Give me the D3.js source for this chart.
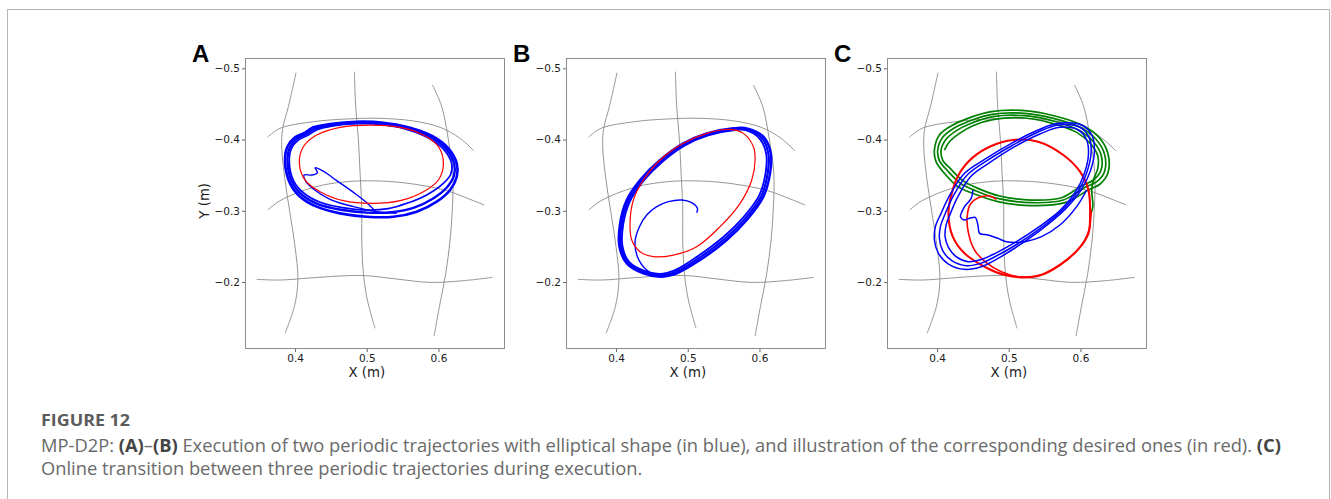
<!DOCTYPE html>
<html>
<head>
<meta charset="utf-8">
<script src="https://cdn.jsdelivr.net/npm/d3@7"></script>
<style>
  body { margin: 0; background: #fff; }
  svg { display: block; }
</style>
</head>
<body>
<svg id="fig" width="1331" height="499"></svg>
<script>
(() => {
  // axis ticks
  const xTicks = [0.4, 0.5, 0.6];
  const yTicks = [-0.5, -0.4, -0.3, -0.2];
  const panelLetters = ['A', 'B', 'C'];

  // workspace grid curves (grey), same in every panel
  const gridV1 = [[0.4014,-0.4939],[0.3907,-0.4462],[0.3828,-0.4158],[0.3814,-0.39],[0.386,-0.343],[0.393,-0.2964],[0.4,-0.2496],[0.4040,-0.2028],[0.399,-0.1654],[0.386,-0.128]];
  const gridV2 = [[0.4828,-0.4953],[0.4846,-0.4462],[0.4884,-0.3994],[0.4907,-0.3526],[0.493,-0.3058],[0.493,-0.259],[0.4953,-0.2122],[0.5009,-0.1747],[0.5116,-0.135]];
  const gridV3 = [[0.5916,-0.4766],[0.6046,-0.4462],[0.6139,-0.3994],[0.62,-0.3526],[0.6195,-0.3058],[0.6162,-0.259],[0.6102,-0.2122],[0.6013,-0.1654],[0.5939,-0.1242]];
  const gridH1 = [[0.3614,-0.4031],[0.3791,-0.4158],[0.4256,-0.4251],[0.4721,-0.4289],[0.5186,-0.4298],[0.5651,-0.4261],[0.6023,-0.4172],[0.6302,-0.4017],[0.6497,-0.3839]];
  const gridH2 = [[0.3619,-0.3011],[0.3791,-0.3142],[0.4256,-0.3329],[0.4721,-0.3409],[0.5186,-0.3418],[0.5651,-0.3376],[0.6116,-0.3282],[0.6441,-0.3161],[0.6637,-0.3081]];
  const gridH3 = [[0.3465,-0.2038],[0.3791,-0.2028],[0.4256,-0.2061],[0.4721,-0.2089],[0.5,-0.2089],[0.5418,-0.2042],[0.5883,-0.1995],[0.6348,-0.2019],[0.6757,-0.2066]];

  // panel A
  const desiredA = [[0.406,-0.3666],[0.4116,-0.39],[0.4302,-0.4064],[0.4628,-0.4172],[0.5046,-0.4204],[0.5465,-0.4172],[0.579,-0.4064],[0.6,-0.39],[0.6069,-0.3666],[0.6,-0.3432],[0.579,-0.3268],[0.5465,-0.3142],[0.5093,-0.3105],[0.4674,-0.3142],[0.4349,-0.3268],[0.414,-0.3432]];
  const execA1 = [[0.386,-0.369],[0.3893,-0.39],[0.4,-0.4031],[0.414,-0.4097],[0.4256,-0.4172],[0.4488,-0.4218],[0.486,-0.4251],[0.5232,-0.4237],[0.5604,-0.4167],[0.593,-0.4041],[0.6139,-0.3877],[0.6255,-0.3666],[0.6255,-0.3479],[0.6162,-0.3292],[0.5976,-0.3128],[0.5697,-0.2988],[0.5372,-0.2917],[0.5,-0.2917],[0.4628,-0.2964],[0.4302,-0.3058],[0.407,-0.3198],[0.393,-0.3385]];
  const execA2 = [[0.3895,-0.369],[0.3925,-0.3885],[0.4025,-0.4012],[0.416,-0.4078],[0.428,-0.4152],[0.45,-0.4202],[0.486,-0.4236],[0.523,-0.4222],[0.559,-0.4152],[0.591,-0.4026],[0.611,-0.3865],[0.622,-0.366],[0.6215,-0.349],[0.611,-0.332],[0.592,-0.317],[0.566,-0.3045],[0.535,-0.298],[0.5,-0.2975],[0.464,-0.3015],[0.432,-0.3095],[0.4095,-0.3225],[0.396,-0.34]];
  const execA3 = [[0.392,-0.368],[0.395,-0.3875],[0.405,-0.3995],[0.418,-0.406],[0.43,-0.4135],[0.451,-0.4188],[0.487,-0.4222],[0.522,-0.421],[0.557,-0.414],[0.588,-0.4012],[0.608,-0.3855],[0.6185,-0.366],[0.617,-0.351],[0.604,-0.336],[0.583,-0.322],[0.556,-0.3105],[0.53,-0.303],[0.5,-0.301],[0.466,-0.3045],[0.435,-0.312],[0.412,-0.325],[0.398,-0.342]];
  const startA = [[0.5149,-0.2964],[0.5,-0.3114],[0.4814,-0.3259],[0.4581,-0.3423],[0.4405,-0.3549],[0.4279,-0.3605],[0.4312,-0.3535],[0.4233,-0.3502],[0.4126,-0.3502],[0.4153,-0.3409],[0.4256,-0.3306],[0.4488,-0.3161],[0.4814,-0.3058],[0.5139,-0.2988],[0.5418,-0.2964]];

  // panel B
  const desiredB = [[0.559,-0.4144],[0.5776,-0.4087],[0.5916,-0.39],[0.5939,-0.3713],[0.5893,-0.3432],[0.573,-0.3105],[0.5451,-0.2777],[0.5125,-0.2496],[0.48,-0.2379],[0.4521,-0.2356],[0.4335,-0.2426],[0.4219,-0.259],[0.4195,-0.2824],[0.4242,-0.3151],[0.4381,-0.3432],[0.4614,-0.3713],[0.4939,-0.3947],[0.5265,-0.4087]];
  const execB1 = [[0.5637,-0.4158],[0.5823,-0.4158],[0.6055,-0.4041],[0.6158,-0.3807],[0.6148,-0.3526],[0.6055,-0.3198],[0.5823,-0.2871],[0.5544,-0.259],[0.5172,-0.2309],[0.4846,-0.2122],[0.4614,-0.2075],[0.4381,-0.2122],[0.4149,-0.2262],[0.4047,-0.2496],[0.4056,-0.2824],[0.4149,-0.3151],[0.4335,-0.3432],[0.4614,-0.3713],[0.4939,-0.3947],[0.5265,-0.4087]];
  const execB2 = [[0.565,-0.4145],[0.5815,-0.4145],[0.603,-0.4025],[0.6125,-0.38],[0.6115,-0.3525],[0.6025,-0.3205],[0.58,-0.289],[0.5525,-0.2615],[0.5155,-0.2335],[0.4835,-0.2145],[0.461,-0.2095],[0.439,-0.2138],[0.4165,-0.2272],[0.4068,-0.2498],[0.4078,-0.2818],[0.4168,-0.3138],[0.4352,-0.3418],[0.4628,-0.3698],[0.495,-0.3932],[0.5275,-0.4072]];
  const execB3 = [[0.566,-0.4132],[0.5808,-0.4132],[0.6005,-0.401],[0.6095,-0.3795],[0.6085,-0.3525],[0.5995,-0.3212],[0.5778,-0.291],[0.5505,-0.2638],[0.5138,-0.236],[0.4825,-0.2168],[0.4608,-0.2115],[0.4398,-0.2155],[0.4182,-0.2282],[0.409,-0.25],[0.41,-0.2812],[0.419,-0.3125],[0.437,-0.3405],[0.4642,-0.3685],[0.496,-0.3918],[0.5285,-0.4058]];
  const startB = [[0.5125,-0.2974],[0.5135,-0.3034],[0.5056,-0.3114],[0.4916,-0.3151],[0.473,-0.3128],[0.4567,-0.3058],[0.4428,-0.2941],[0.4326,-0.2777],[0.4265,-0.2566],[0.4298,-0.2356],[0.4428,-0.2169],[0.4614,-0.2084],[0.4846,-0.2113]];

  // panel C: green, red and blue executions
  const greenC1 = [[0.3963,-0.3853],[0.4033,-0.4064],[0.4196,-0.419],[0.443,-0.4298],[0.4757,-0.4392],[0.5224,-0.4406],[0.5644,-0.4331],[0.6017,-0.4204],[0.6251,-0.4041],[0.6382,-0.3807],[0.6382,-0.3526],[0.6274,-0.3376],[0.6111,-0.3292],[0.5784,-0.3114],[0.5317,-0.3072],[0.485,-0.3128],[0.4523,-0.3236],[0.429,-0.3339],[0.4103,-0.3526],[0.3986,-0.369]];
  const greenC2 = [[0.4009,-0.3853],[0.4079,-0.4031],[0.4234,-0.4158],[0.4453,-0.4261],[0.4766,-0.4354],[0.5224,-0.4368],[0.5635,-0.4293],[0.5994,-0.4172],[0.6214,-0.4008],[0.6335,-0.3797],[0.6335,-0.3549],[0.6228,-0.3409],[0.6064,-0.3329],[0.5761,-0.3151],[0.5317,-0.3114],[0.4859,-0.317],[0.4546,-0.3278],[0.4327,-0.3385],[0.4149,-0.3559],[0.4033,-0.3704]];
  const greenC3 = [[0.4056,-0.3853],[0.4126,-0.4003],[0.4271,-0.4125],[0.4476,-0.4228],[0.478,-0.4321],[0.5224,-0.4335],[0.562,-0.4261],[0.5971,-0.4134],[0.6181,-0.397],[0.6288,-0.3783],[0.6288,-0.3573],[0.6181,-0.3432],[0.6027,-0.3357],[0.5737,-0.3184],[0.5317,-0.3151],[0.4873,-0.3208],[0.457,-0.3315],[0.436,-0.3423],[0.4196,-0.3582],[0.4079,-0.3713]];
  const greenC4 = [[0.4103,-0.3853],[0.4173,-0.397],[0.4313,-0.4087],[0.45,-0.4195],[0.4794,-0.4284],[0.5224,-0.4303],[0.5606,-0.4228],[0.5947,-0.4101],[0.6144,-0.3938],[0.6242,-0.3769],[0.6242,-0.3596],[0.6181,-0.3432],[0.6158,-0.3292],[0.6172,-0.3058],[0.6134,-0.2927]];
  const redC1 = [[0.6134,-0.2927],[0.6111,-0.2683],[0.598,-0.2473],[0.5714,-0.2239],[0.541,-0.2084],[0.5177,-0.2066],[0.4943,-0.2098],[0.4663,-0.2215],[0.4383,-0.2403],[0.4219,-0.2637],[0.4159,-0.2964],[0.4205,-0.3245],[0.4313,-0.3526],[0.45,-0.375],[0.4757,-0.391],[0.506,-0.3994],[0.541,-0.397],[0.5761,-0.3783],[0.5994,-0.3549],[0.6111,-0.3292]];
  const redC2 = [[0.6148,-0.3011],[0.612,-0.273],[0.5994,-0.2487],[0.5737,-0.2262],[0.5434,-0.2098],[0.513,-0.2075],[0.4897,-0.2145],[0.4686,-0.2272],[0.4523,-0.2449],[0.4439,-0.2683],[0.442,-0.2917],[0.4467,-0.3095],[0.4593,-0.3189],[0.4733,-0.3208],[0.4827,-0.3161]];
  const blueC1 = [[0.5691,-0.4228],[0.6017,-0.4204],[0.6158,-0.4064],[0.6195,-0.383],[0.6134,-0.3549],[0.6008,-0.3292],[0.5784,-0.302],[0.5457,-0.274],[0.513,-0.2506],[0.485,-0.2332],[0.4616,-0.2215],[0.4383,-0.2178],[0.4159,-0.2253],[0.4019,-0.2403],[0.3963,-0.259],[0.3977,-0.2777],[0.4056,-0.2964],[0.4187,-0.3236],[0.4383,-0.3526],[0.4663,-0.3722],[0.5037,-0.3947],[0.541,-0.4134]];
  const blueC2 = [[0.5691,-0.4204],[0.5994,-0.4172],[0.612,-0.4031],[0.6148,-0.3807],[0.6087,-0.3535],[0.5971,-0.3282],[0.5747,-0.3011],[0.5434,-0.2749],[0.5121,-0.2534],[0.4827,-0.2365],[0.4607,-0.2262],[0.4406,-0.2229],[0.4205,-0.23],[0.4079,-0.244],[0.4033,-0.2613],[0.4047,-0.2777],[0.4112,-0.2955],[0.4234,-0.3222],[0.442,-0.3502],[0.4696,-0.3704],[0.506,-0.3924],[0.541,-0.4106]];
  const blueC3 = [[0.5714,-0.4172],[0.5971,-0.4134],[0.6087,-0.3994],[0.6111,-0.3783],[0.6055,-0.3526],[0.5933,-0.3268],[0.5714,-0.3002],[0.541,-0.2768],[0.5107,-0.2566],[0.4813,-0.2403],[0.4593,-0.2309],[0.443,-0.2286],[0.4266,-0.2356],[0.4159,-0.2487],[0.4112,-0.2637],[0.4126,-0.28],[0.4187,-0.2964],[0.429,-0.3198],[0.4467,-0.3479],[0.4733,-0.3676],[0.5083,-0.39],[0.5434,-0.4078]];
  const blueCstart = [[0.45,-0.3292],[0.4476,-0.3175],[0.4383,-0.3058],[0.4327,-0.2917],[0.4374,-0.2871],[0.4453,-0.2894],[0.4532,-0.2908],[0.457,-0.28],[0.4593,-0.2683],[0.471,-0.266],[0.485,-0.2613],[0.4967,-0.2566],[0.5224,-0.2566],[0.5457,-0.2637],[0.5714,-0.28],[0.5947,-0.3058],[0.6087,-0.3292]];

  const BLUE = '#0000ff', RED = '#ff0000', GREEN = '#008000';

  const panels = [
    { left: 245, series: [
      { pts: startA, color: BLUE, w: 1.4, closed: false },
      { pts: execA1, color: BLUE, w: 2.6, closed: true },
      { pts: execA2, color: BLUE, w: 2.4, closed: true },
      { pts: execA3, color: BLUE, w: 1.7, closed: true },
      { pts: desiredA, color: RED, w: 1.2, closed: true }
    ]},
    { left: 566, series: [
      { pts: startB, color: BLUE, w: 1.4, closed: false },
      { pts: execB1, color: BLUE, w: 2.4, closed: true },
      { pts: execB2, color: BLUE, w: 2.2, closed: true },
      { pts: execB3, color: BLUE, w: 1.9, closed: true },
      { pts: desiredB, color: RED, w: 1.2, closed: true }
    ]},
    { left: 887, series: [
      { pts: greenC1, color: GREEN, w: 1.7, closed: true },
      { pts: greenC2, color: GREEN, w: 1.7, closed: true },
      { pts: greenC3, color: GREEN, w: 1.7, closed: true },
      { pts: greenC4, color: GREEN, w: 1.7, closed: false },
      { pts: redC1, color: RED, w: 2.1, closed: true },
      { pts: redC2, color: RED, w: 1.6, closed: false },
      { pts: blueCstart, color: BLUE, w: 1.5, closed: false },
      { pts: blueC1, color: BLUE, w: 1.5, closed: true },
      { pts: blueC2, color: BLUE, w: 1.5, closed: true },
      { pts: blueC3, color: BLUE, w: 1.5, closed: true }
    ]}
  ];
  const grids = [gridV1, gridV2, gridV3, gridH1, gridH2, gridH3];

  const svg = d3.select('#fig');
  const top = 58, width = 260, height = 291;
  const axisFont = '"DejaVu Sans", sans-serif';

  // outer box
  svg.append('rect')
    .attr('x', 7.5).attr('y', 9.5).attr('width', 1322).attr('height', 520)
    .attr('fill', 'none').attr('stroke', '#b5b5b5').attr('stroke-width', 1);

  panels.forEach((p, i) => {
    let x = d3.scaleLinear().domain([0.3302, 0.6928]).range([p.left, p.left + width]);
    let y = d3.scaleLinear().domain([-0.5145, -0.106]).range([top, top + height]);
    let g = svg.append('g');

    let clipId = 'clip' + i;
    g.append('clipPath').attr('id', clipId).append('rect')
      .attr('x', p.left).attr('y', top).attr('width', width).attr('height', height);

    let plot = g.append('g').attr('clip-path', `url(#${clipId})`);
    let line = d3.line().x(d => x(d[0])).y(d => y(d[1])).curve(d3.curveCatmullRom.alpha(0.5));
    let lineClosed = d3.line().x(d => x(d[0])).y(d => y(d[1])).curve(d3.curveCatmullRomClosed.alpha(0.5));

    grids.forEach(c => {
      plot.append('path').attr('d', line(c))
        .attr('fill', 'none').attr('stroke', '#8a8a8a').attr('stroke-width', 0.9);
    });

    p.series.forEach(s => {
      plot.append('path').attr('d', (s.closed ? lineClosed : line)(s.pts))
        .attr('fill', 'none').attr('stroke', s.color)
        .attr('stroke-width', s.w).attr('stroke-linejoin', 'round');
    });

    // frame
    g.append('rect')
      .attr('x', p.left + 0.5).attr('y', top + 0.5).attr('width', width - 1).attr('height', height - 1)
      .attr('fill', 'none').attr('stroke', '#8c8c8c').attr('stroke-width', 1);

    let fmt = d3.format('.1f');
    let xAxis = g.append('g').attr('transform', `translate(0,${top + height})`)
      .call(d3.axisBottom(x).tickValues(xTicks).tickFormat(fmt).tickSize(3).tickPadding(3));
    let yAxis = g.append('g').attr('transform', `translate(${p.left},0)`)
      .call(d3.axisLeft(y).tickValues(yTicks).tickFormat(fmt).tickSize(3).tickPadding(2));
    [xAxis, yAxis].forEach(a => {
      a.select('.domain').remove();
      a.selectAll('line').attr('stroke', '#666');
      a.selectAll('text').attr('fill', '#1a1a1a')
        .style('font-family', axisFont).style('font-size', '10.5px');
    });

    g.append('text')
      .attr('x', x(0.5)).attr('y', top + height + 28)
      .attr('text-anchor', 'middle').attr('fill', '#1a1a1a')
      .style('font-family', axisFont).style('font-size', '13.3px')
      .text('X (m)');

    if (i === 0) {
      g.append('text')
        .attr('transform', `translate(${p.left - 36},${y(-0.3) - 10}) rotate(-90)`)
        .attr('text-anchor', 'middle').attr('fill', '#1a1a1a')
        .style('font-family', axisFont).style('font-size', '13.3px')
        .text('Y (m)');
    }

    g.append('text')
      .attr('x', p.left - 53).attr('y', 62)
      .attr('fill', '#000')
      .style('font-family', '"Liberation Sans", Arial, sans-serif')
      .style('font-weight', 'bold').style('font-size', '24px')
      .text(panelLetters[i]);
  });

  // caption
  const capFont = '"Open Sans", "Noto Sans", sans-serif';
  svg.append('text')
    .attr('x', 41).attr('y', 426)
    .attr('fill', '#5c5c5c')
    .attr('textLength', 89).attr('lengthAdjust', 'spacingAndGlyphs')
    .style('font-family', capFont).style('font-weight', 'bold').style('font-size', '16px')
    .text('FIGURE 12');

  const line1 = [
    ['MP-D2P: ', false], ['(A)', true], ['\u2013', false], ['(B)', true],
    [' Execution of two periodic trajectories with elliptical shape (in blue), and illustration of the corresponding desired ones (in red). ', false],
    ['(C)', true]
  ];
  const line2 = [['Online transition between three periodic trajectories during execution.', false]];

  let capLines = [];
  [[line1, 452], [line2, 475]].forEach(([parts, yy]) => {
    let t = svg.append('text').attr('x', 41).attr('y', yy)
      .style('font-family', capFont).style('font-size', '14px');
    parts.forEach(([str, bold]) => {
      t.append('tspan').text(str)
        .attr('fill', bold ? '#444' : '#6a6a6a')
        .style('font-weight', bold ? 'bold' : 'normal');
    });
    capLines.push(t);
  });
  // fit first caption line to the reference width
  let len = capLines[0].node().getComputedTextLength();
  let fs = 14 * 1241 / len;
  capLines.forEach(t => t.style('font-size', fs + 'px'));
})();
</script>
</body>
</html>
